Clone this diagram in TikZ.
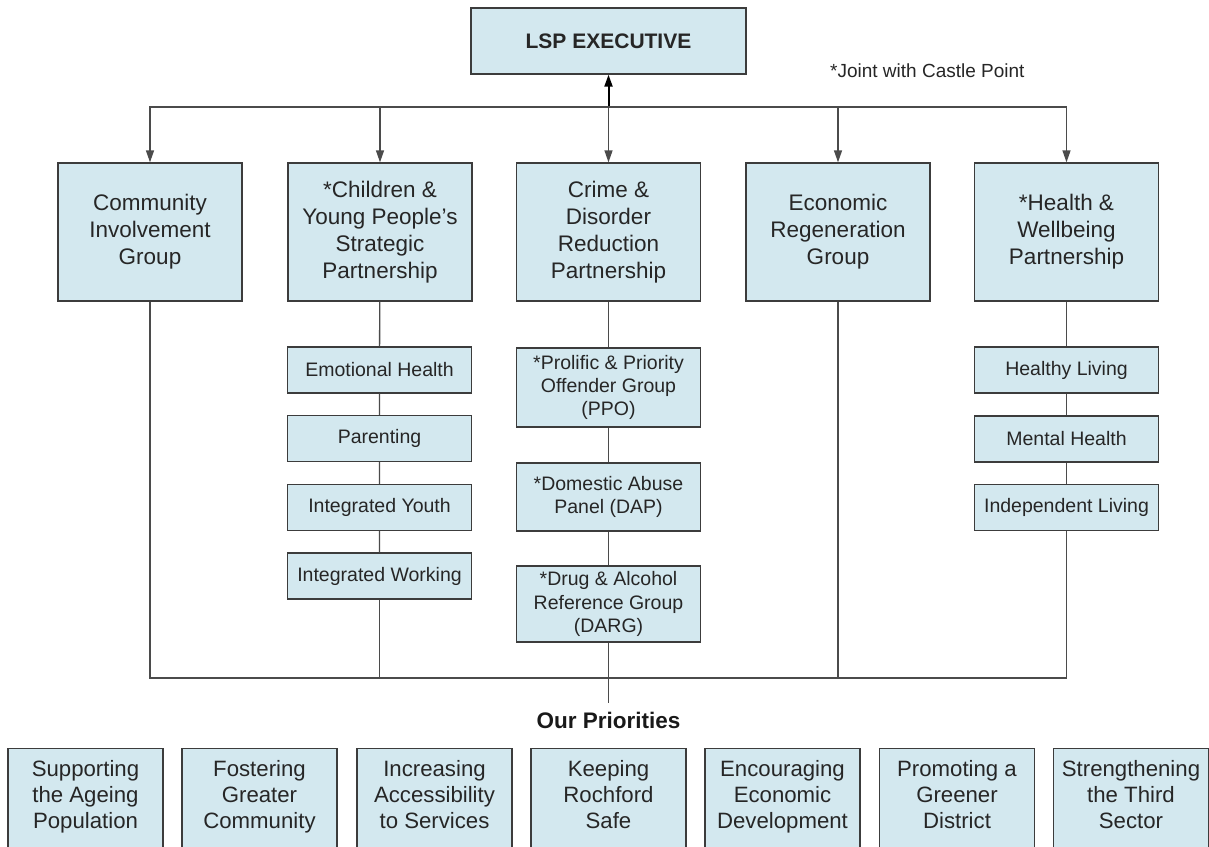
\documentclass[tikz,border=0pt]{standalone}
\usepackage{fontspec}
\setmainfont{Liberation Sans}
\usepackage{xcolor}
\usepackage{tikz}
\usetikzlibrary{arrows.meta}

\definecolor{boxfill}{RGB}{211,232,239}
\definecolor{boxline}{RGB}{60,60,60}
\definecolor{wire}{RGB}{75,75,75}

\begin{document}
\begin{tikzpicture}[x=1pt,y=-1pt,
    box/.style={shape=rectangle, draw=boxline, line width=1.3pt, fill=boxfill, inner sep=0pt, align=center, text=black!85},
    group/.style={box, minimum width=184pt, minimum height=138pt, font=\fontsize{22.5}{27}\selectfont},
    sub/.style={box, minimum width=184pt, font=\fontsize{19.5}{23.3}\selectfont},
    prio/.style={box, minimum width=155pt, minimum height=106pt, text height=68pt, text depth=14pt, font=\fontsize{22.2}{26}\selectfont},
    link/.style={draw=wire, line width=1.3pt},
    arr/.style={-{Triangle[length=12pt,width=8pt]}}]
    \useasboundingbox (0,0) rectangle (1209,846);

    \node[box, minimum width=275pt, minimum height=66pt, font=\fontsize{21}{25}\selectfont\bfseries] (lsp) at (608.5,41) {LSP EXECUTIVE};
    \node[anchor=base west, inner sep=0pt, font=\fontsize{19}{23}\selectfont, text=black!85] (note) at (830,77) {*Joint with Castle Point};

    \node[group] (cig) at (150,232) {Community\\Involvement\\Group};
    \node[group] (cyp) at (380,232) {*Children \&\\Young People's\\Strategic\\Partnership};
    \node[group] (cdr) at (608.5,232) {Crime \&\\Disorder\\Reduction\\Partnership};
    \node[group] (erg) at (838,232) {Economic\\Regeneration\\Group};
    \node[group] (hwp) at (1066.5,232) {*Health \&\\Wellbeing\\Partnership};

    % children's sub groups
    \node[sub, minimum height=46pt] (emo) at (379.5,370) {Emotional Health};
    \node[sub, minimum height=46pt] (par) at (379.5,438.5) {Parenting};
    \node[sub, minimum height=46pt] (yth) at (379.5,507.5) {Integrated Youth};
    \node[sub, minimum height=46pt] (wrk) at (379.5,576) {Integrated Working};

    % crime & disorder sub groups
    \node[sub, minimum height=79pt] (ppo) at (608.5,387.5) {*Prolific \& Priority\\Offender Group\\(PPO)};
    \node[sub, minimum height=68pt] (dap) at (608.5,497) {*Domestic Abuse\\Panel (DAP)};
    \node[sub, minimum height=76pt] (darg) at (608.5,604) {*Drug \& Alcohol\\Reference Group\\(DARG)};

    % health sub groups
    \node[sub, minimum height=46pt] (hl) at (1066.5,370) {Healthy Living};
    \node[sub, minimum height=46pt] (mh) at (1066.5,439) {Mental Health};
    \node[sub, minimum height=46pt] (il) at (1066.5,507.5) {Independent Living};

    \node[inner sep=9pt, font=\fontsize{22.5}{27}\selectfont\bfseries, text=black!90] (ours) at (608.5,720) {Our Priorities};

    \node[prio, anchor=north] (p1) at (85.5,748) {Supporting\\the Ageing\\Population};
    \node[prio, anchor=north] (p2) at (259.5,748) {Fostering\\Greater\\Community};
    \node[prio, anchor=north] (p3) at (434.5,748) {Increasing\\Accessibility\\to Services};
    \node[prio, anchor=north] (p4) at (608.5,748) {Keeping\\Rochford\\Safe};
    \node[prio, anchor=north] (p5) at (782.5,748) {Encouraging\\Economic\\Development};
    \node[prio, anchor=north] (p6) at (957,748) {Promoting a\\Greener\\District};
    \node[prio, anchor=north] (p7) at (1131,748) {Strengthening\\the Third\\Sector};

    \coordinate (hub) at (608.5,107);
    \coordinate (base) at (608.5,678);

    \draw[line width=2pt, arr] (hub) -- (lsp.south);
    \draw[link, arr] (hub) -| (cig.north);
    \draw[link, arr] (hub) -| (cyp.north);
    \draw[link, arr] (hub) -- (cdr.north);
    \draw[link, arr] (hub) -| (erg.north);
    \draw[link, arr] (hub) -| (hwp.north);

    \draw[link] (cyp) -- (emo) -- (par) -- (yth) -- (wrk);
    \draw[link] (cdr) -- (ppo) -- (dap) -- (darg);
    \draw[link] (hwp) -- (hl) -- (mh) -- (il);

    \draw[link] (cig.south) |- (base);
    \draw[link] (wrk.south) |- (base);
    \draw[link] (erg.south) |- (base);
    \draw[link] (il.south) |- (base);
    \draw[link] (darg.south) -- (base) -- (ours.north);
  \end{tikzpicture}
\end{document}
